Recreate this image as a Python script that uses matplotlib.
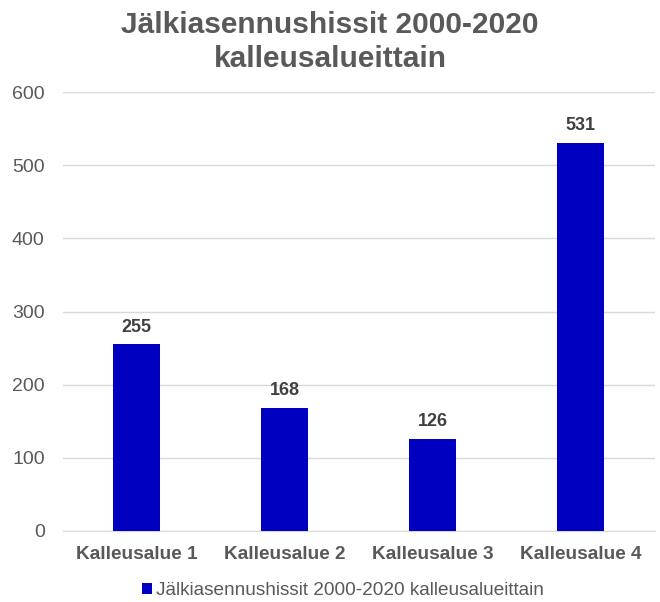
import matplotlib.pyplot as plt
import numpy as np

plt.rcParams['font.family'] = ['Liberation Sans', 'DejaVu Sans']

alueet = ['Kalleusalue 1', 'Kalleusalue 2', 'Kalleusalue 3', 'Kalleusalue 4']
hissit = [255, 168, 126, 531]
sarja = 'Jälkiasennushissit 2000-2020 kalleusalueittain'

fig = plt.figure(figsize=(6.6, 6.02), dpi=100)
ax = fig.add_axes([0.095, 0.118, 0.897, 0.729])

x = np.arange(len(alueet))
bars = ax.bar(x, hissit, width=0.32, color='#0000C0', label=sarja, zorder=3)

for b, v in zip(bars, hissit):
    ax.text(b.get_x() + b.get_width() / 2, v + 12, str(v), ha='center', va='bottom',
            fontsize=13, fontweight='bold', color='#404040')

ax.set_ylim(0, 600)
ax.set_xlim(-0.5, len(alueet) - 0.5)
ax.set_yticks(range(0, 601, 100))
ax.set_xticks(x)
ax.set_xticklabels(alueet, fontsize=13.7, fontweight='bold', color='#595959')
ax.tick_params(axis='y', labelsize=14, labelcolor='#595959', length=0, pad=13)
ax.tick_params(axis='x', length=0, pad=11)
ax.grid(axis='y', color='#d9d9d9', linewidth=1, zorder=0)
for s in ['top', 'right', 'left']:
    ax.spines[s].set_visible(False)
ax.spines['bottom'].set_color('#d9d9d9')

fig.suptitle('Jälkiasennushissit 2000-2020\nkalleusalueittain', x=0.5, y=0.982,
             fontsize=21.5, fontweight='bold', color='#595959', linespacing=1.3)

fig.legend(loc='lower center', bbox_to_anchor=(0.52, -0.024), frameon=False, fontsize=13.7,
           handlelength=0.5, handleheight=0.5, handletextpad=0.25, labelcolor='#595959')

fig.savefig('out.png', dpi=100)
